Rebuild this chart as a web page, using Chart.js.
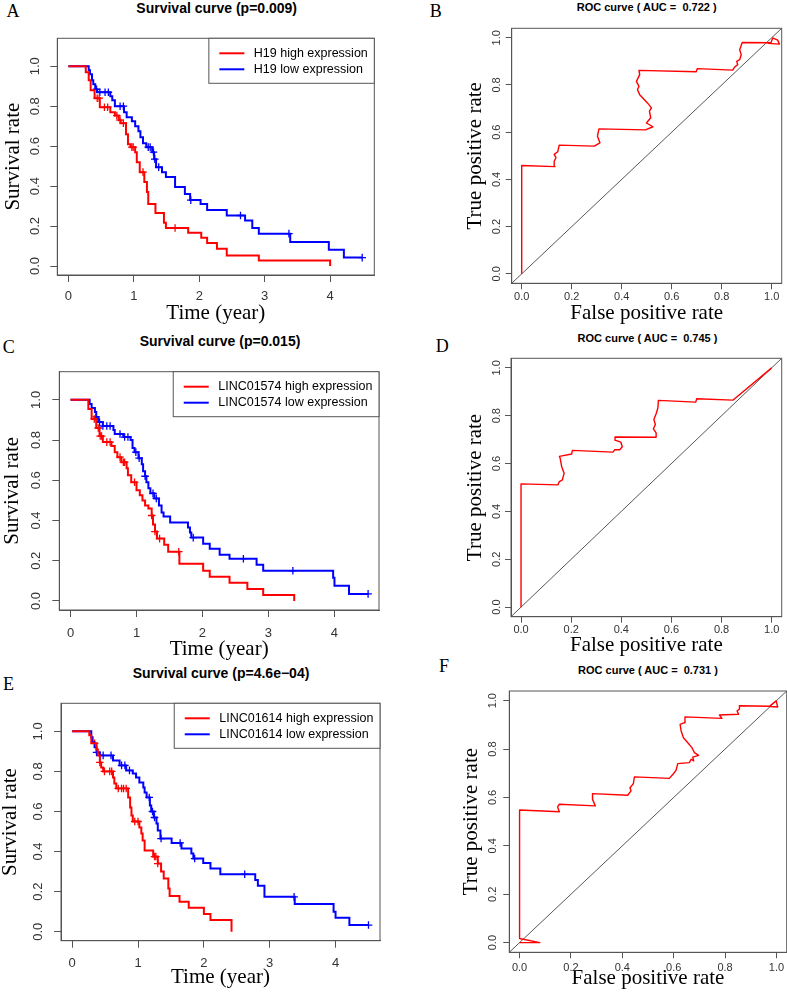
<!DOCTYPE html>
<html><head><meta charset="utf-8">
<script src="https://cdn.jsdelivr.net/npm/chart.js@4.4.1/dist/chart.umd.min.js"></script>
<style>
html,body{margin:0;padding:0;background:#fff;}
body{width:787px;height:992px;overflow:hidden;position:relative;}
canvas{position:absolute;}
.ttl{position:absolute;transform:translate(-50%,-50%);font-family:'Liberation Sans',Arial,sans-serif;font-weight:bold;line-height:1;white-space:pre;color:#000;}
.lbl{position:absolute;transform:translateY(-50%);font-family:'Liberation Serif','Times New Roman',serif;font-size:18px;line-height:1;color:#000;}
</style></head><body>
<div class="lbl" style="left:6.5px;top:10.8px">A</div>
<div class="lbl" style="left:429.7px;top:10.8px">B</div>
<div class="lbl" style="left:2.8px;top:346.7px">C</div>
<div class="lbl" style="left:435.8px;top:346px">D</div>
<div class="lbl" style="left:3px;top:684px">E</div>
<div class="lbl" style="left:439px;top:666px">F</div>
<div class="ttl" style="left:216.7px;top:8px;font-size:14px">Survival curve (p=0.009)</div>
<div class="ttl" style="left:646.7px;top:7px;font-size:11px">ROC curve ( AUC =  0.722 )</div>
<div class="ttl" style="left:220px;top:341px;font-size:14px">Survival curve (p=0.015)</div>
<div class="ttl" style="left:647.5px;top:338px;font-size:11px">ROC curve ( AUC =  0.745 )</div>
<div class="ttl" style="left:221px;top:672.5px;font-size:14px">Survival curve (p=4.6e−04)</div>
<div class="ttl" style="left:648px;top:669.5px;font-size:11px">ROC curve ( AUC =  0.731 )</div>
<script>
// ---------------- DATA ----------------
const survivalTicksX = [0, 1, 2, 3, 4];
const survivalTicksY = [0, 0.2, 0.4, 0.6, 0.8, 1.0];
const rocTicks = [0, 0.2, 0.4, 0.6, 0.8, 1.0];

// Kaplan-Meier steps: [time (year), survival rate]
const h19HighSteps = [[0,1],[0.265,0.97],[0.31,0.93],[0.34,0.88],[0.40,0.84],[0.48,0.795],[0.64,0.77],[0.71,0.753],[0.77,0.73],[0.80,0.715],[0.88,0.66],[0.91,0.61],[0.95,0.595],[1.02,0.57],[1.045,0.52],[1.09,0.47],[1.16,0.42],[1.20,0.37],[1.22,0.31],[1.33,0.265],[1.46,0.217],[1.49,0.19],[1.83,0.167],[2.03,0.142],[2.12,0.115],[2.27,0.087],[2.42,0.053],[2.91,0.028],[4.0,0.0]];
const h19HighCensor = [0.44,0.47,0.55,0.60,0.74,0.79,0.84,0.97,0.99,1.14,1.63];
const h19LowSteps = [[0,1],[0.31,0.98],[0.33,0.96],[0.36,0.93],[0.38,0.91],[0.41,0.885],[0.44,0.87],[0.64,0.85],[0.67,0.83],[0.71,0.80],[0.85,0.77],[0.89,0.745],[0.97,0.725],[1.02,0.70],[1.07,0.675],[1.10,0.645],[1.14,0.615],[1.19,0.595],[1.28,0.57],[1.31,0.535],[1.34,0.495],[1.43,0.47],[1.49,0.445],[1.63,0.395],[1.78,0.36],[1.86,0.33],[2.02,0.31],[2.12,0.28],[2.42,0.253],[2.70,0.228],[2.81,0.19],[2.91,0.162],[3.39,0.12],[3.98,0.082],[4.21,0.042],[4.49,0.042]];
const h19LowCensor = [0.43,0.48,0.56,0.61,0.79,0.84,1.22,1.25,1.30,1.32,1.38,1.87,2.63,3.37,4.49];

const linc01574HighSteps = [[0,1],[0.27,0.955],[0.32,0.905],[0.39,0.86],[0.44,0.82],[0.49,0.79],[0.62,0.77],[0.67,0.74],[0.71,0.715],[0.77,0.69],[0.85,0.66],[0.87,0.625],[0.92,0.59],[1.0,0.55],[1.05,0.525],[1.09,0.50],[1.13,0.475],[1.18,0.46],[1.23,0.425],[1.25,0.38],[1.28,0.345],[1.31,0.31],[1.42,0.28],[1.48,0.245],[1.65,0.185],[2.01,0.15],[2.11,0.12],[2.41,0.09],[2.68,0.06],[2.92,0.03],[3.39,0.0]];
const linc01574HighCensor = [0.36,0.42,0.45,0.47,0.55,0.60,0.75,0.80,0.82,0.97,1.23,1.28,1.35,1.64];
const linc01574LowSteps = [[0,1],[0.29,0.98],[0.32,0.96],[0.37,0.94],[0.39,0.915],[0.42,0.89],[0.49,0.87],[0.65,0.85],[0.67,0.83],[0.80,0.815],[0.91,0.80],[0.94,0.76],[0.97,0.74],[1.03,0.71],[1.08,0.68],[1.10,0.645],[1.13,0.62],[1.15,0.59],[1.18,0.56],[1.21,0.535],[1.27,0.51],[1.34,0.475],[1.38,0.44],[1.41,0.42],[1.51,0.39],[1.78,0.365],[1.81,0.34],[1.83,0.315],[2.01,0.285],[2.11,0.26],[2.26,0.23],[2.41,0.21],[2.82,0.18],[2.92,0.15],[3.98,0.115],[4.0,0.075],[4.22,0.035],[4.51,0.035]];
const linc01574LowCensor = [0.39,0.44,0.49,0.55,0.60,0.75,0.82,0.87,0.99,1.04,1.13,1.25,1.30,1.86,2.62,3.37,4.51];

const linc01614HighSteps = [[0,1],[0.26,0.98],[0.29,0.94],[0.37,0.91],[0.39,0.88],[0.42,0.845],[0.44,0.82],[0.47,0.80],[0.62,0.77],[0.64,0.74],[0.67,0.715],[0.85,0.67],[0.88,0.62],[0.90,0.58],[0.92,0.55],[1.02,0.52],[1.05,0.49],[1.07,0.455],[1.10,0.405],[1.23,0.375],[1.30,0.34],[1.35,0.30],[1.39,0.265],[1.46,0.215],[1.48,0.178],[1.63,0.15],[1.77,0.12],[2.0,0.088],[2.1,0.058],[2.42,0.0]];
const linc01614HighCensor = [0.34,0.42,0.49,0.57,0.60,0.70,0.75,0.78,0.82,0.95,1.0,1.25,1.27,1.30];
const linc01614LowSteps = [[0,1],[0.29,0.97],[0.31,0.945],[0.34,0.92],[0.37,0.895],[0.42,0.88],[0.62,0.855],[0.72,0.83],[0.82,0.805],[0.92,0.79],[0.97,0.77],[1.02,0.745],[1.08,0.72],[1.10,0.695],[1.13,0.67],[1.18,0.63],[1.20,0.60],[1.24,0.57],[1.28,0.54],[1.30,0.505],[1.34,0.465],[1.51,0.443],[1.66,0.415],[1.81,0.39],[1.84,0.365],[1.99,0.343],[2.10,0.315],[2.25,0.287],[2.78,0.258],[2.82,0.229],[2.92,0.174],[3.38,0.138],[3.97,0.10],[4.0,0.07],[4.21,0.033],[4.5,0.033]];
const linc01614LowCensor = [0.37,0.42,0.47,0.59,0.75,0.80,0.87,1.17,1.22,1.25,1.35,1.64,1.86,2.62,3.37,4.5];

// ROC curves: [false positive rate, true positive rate]
const h19Roc = [[0,0],[0,0.459],[0.133,0.454],[0.130,0.477],[0.137,0.492],[0.130,0.506],[0.144,0.517],[0.150,0.545],[0.290,0.541],[0.313,0.555],[0.303,0.583],[0.309,0.614],[0.495,0.610],[0.525,0.623],[0.499,0.639],[0.516,0.661],[0.511,0.689],[0.519,0.703],[0.503,0.724],[0.472,0.759],[0.463,0.780],[0.469,0.794],[0.459,0.815],[0.472,0.844],[0.469,0.862],[0.698,0.856],[0.702,0.869],[0.844,0.863],[0.851,0.875],[0.864,0.886],[0.860,0.900],[0.872,0.907],[0.878,0.928],[0.872,0.949],[0.882,0.980],[0.997,0.979],[1.004,0.999],[1.024,0.990],[1.031,0.973],[0.984,0.976]];
const linc01574Roc = [[0,0],[0,0.515],[0.147,0.511],[0.153,0.525],[0.165,0.532],[0.172,0.560],[0.162,0.588],[0.156,0.623],[0.153,0.630],[0.202,0.640],[0.205,0.655],[0.367,0.648],[0.374,0.658],[0.394,0.658],[0.404,0.670],[0.398,0.690],[0.378,0.697],[0.375,0.711],[0.539,0.710],[0.539,0.728],[0.528,0.745],[0.536,0.763],[0.530,0.784],[0.539,0.808],[0.546,0.833],[0.548,0.864],[0.697,0.857],[0.701,0.871],[0.845,0.865],[1.0,1.0]];
const linc01614Roc = [[0,0],[0.079,0],[0,0.017],[0,0.548],[0.155,0.541],[0.148,0.561],[0.155,0.572],[0.295,0.565],[0.284,0.592],[0.284,0.616],[0.421,0.609],[0.434,0.627],[0.430,0.640],[0.443,0.657],[0.447,0.685],[0.583,0.679],[0.599,0.698],[0.609,0.712],[0.616,0.740],[0.661,0.744],[0.668,0.758],[0.678,0.751],[0.674,0.767],[0.697,0.774],[0.681,0.785],[0.671,0.806],[0.655,0.826],[0.638,0.847],[0.629,0.875],[0.625,0.902],[0.642,0.909],[0.644,0.933],[0.788,0.927],[0.778,0.941],[0.853,0.944],[0.847,0.957],[0.856,0.966],[0.856,0.979],[0.973,0.977],[0.999,0.999],[1.005,0.974],[0.975,0.976]];

// axis limits
const survXLim = [-0.17, 4.675];
const survYLim = [-0.045, 1.14];
const rocLim = [-0.04, 1.04];

// ---------------- RENDERING ----------------
const SANS = "'Liberation Sans', Arial, sans-serif";
const SERIF = "'Liberation Serif', 'Times New Roman', serif";
const RED = '#FF0000', BLUE = '#0000FF', FRAME = '#555555';

const toXY = arr => arr.map(([x, y]) => ({x, y}));
function survAt(steps, t) {
  let s = steps[0][1];
  for (const [tt, ss] of steps) { if (tt <= t + 1e-9) s = ss; else break; }
  return s;
}
function makeCanvas(cl, ct, w, h) {
  const c = document.createElement('canvas');
  c.width = w; c.height = h;
  c.style.left = cl + 'px'; c.style.top = ct + 'px';
  c.style.width = w + 'px'; c.style.height = h + 'px';
  document.body.appendChild(c);
  return c;
}
const boxPlugin = {
  id: 'rbox',
  afterDatasetsDraw(chart) {
    const {ctx, chartArea: a} = chart;
    ctx.save();
    ctx.strokeStyle = FRAME; ctx.lineWidth = 1;
    ctx.strokeRect(a.left, a.top, a.right - a.left, a.bottom - a.top);
    ctx.restore();
  }
};
const kmLegendPlugin = {
  id: 'kmLegend',
  afterDraw(chart) {
    const {ctx, chartArea: a} = chart;
    const ds = chart.data.datasets.slice(0, 2);
    ctx.save();
    ctx.font = '12.5px ' + SANS;
    const tw = Math.max(...ds.map(d => ctx.measureText(d.label).width));
    const w = 45 + tw + 6.5, h = 45;
    const left = a.right - w, top = a.top;
    ctx.fillStyle = '#fff'; ctx.fillRect(left, top, w, h);
    ctx.strokeStyle = FRAME; ctx.lineWidth = 1; ctx.strokeRect(left, top, w, h);
    ds.forEach((d, i) => {
      const y = top + 15 + i * 16;
      ctx.strokeStyle = d.borderColor; ctx.lineWidth = 2;
      ctx.beginPath(); ctx.moveTo(left + 10.5, y); ctx.lineTo(left + 35.5, y); ctx.stroke();
      ctx.fillStyle = '#000'; ctx.textBaseline = 'middle'; ctx.textAlign = 'left';
      ctx.fillText(d.label, left + 45, y);
    });
    ctx.restore();
  }
};

function axis(opts) {
  return {
    type: 'linear', min: opts.lim[0], max: opts.lim[1],
    afterBuildTicks: s => { s.ticks = opts.ticks.map(v => ({value: v})); },
    afterFit: opts.fit,
    ticks: Object.assign({
      font: {family: SANS, size: opts.fontSize}, color: '#333', padding: opts.pad,
      autoSkip: false, callback: opts.fmt
    }, opts.rot ? {minRotation: 90, maxRotation: 90, crossAlign: 'center'} : {maxRotation: 0}),
    grid: {display: true, drawOnChartArea: false, drawTicks: true, tickLength: opts.tl, tickColor: FRAME, tickWidth: 1, color: FRAME},
    border: {display: true, color: FRAME, width: 1},
    title: {display: true, text: opts.title, color: '#000', font: {family: SERIF, size: 21, lineHeight: 1}, padding: opts.titlePad}
  };
}

function frame(p) {
  const [bl, bt, br, bb] = p.box;
  const [cl, ct, w, h] = p.canvas;
  return {canvas: makeCanvas(cl, ct, w, h), YW: bl - cl, XH: ct + h - bb, PT: bt - ct, PR: cl + w - br};
}

function survivalChart(p) {
  const f = frame(p);
  const censorSet = (steps, cens, col) => ({
    label: 'censored', data: cens.map(t => ({x: t, y: survAt(steps, t)})), showLine: false,
    pointStyle: 'cross', pointRadius: 3.8, pointBorderWidth: 1.3, borderColor: col, backgroundColor: col
  });
  return new Chart(f.canvas, {
    type: 'scatter',
    data: {datasets: [
      {label: p.labels[0], data: toXY(p.high), showLine: true, stepped: 'before', borderColor: RED, backgroundColor: RED, borderWidth: 2, pointRadius: 0, fill: false},
      {label: p.labels[1], data: toXY(p.low), showLine: true, stepped: 'before', borderColor: BLUE, backgroundColor: BLUE, borderWidth: 2, pointRadius: 0, fill: false},
      censorSet(p.high, p.highCens, RED),
      censorSet(p.low, p.lowCens, BLUE)
    ]},
    options: {
      responsive: false, animation: false, devicePixelRatio: 1,
      layout: {padding: {left: 0, top: f.PT, right: f.PR, bottom: 0}},
      plugins: {legend: {display: false}, tooltip: {enabled: false}},
      scales: {
        x: axis({lim: survXLim, ticks: survivalTicksX, fontSize: 13, pad: p.xTickPad, tl: 7, fmt: v => String(v),
                 fit: s => { s.height = f.XH; }, title: 'Time (year)', titlePad: {top: 0, bottom: p.xTitlePad}}),
        y: axis({lim: survYLim, ticks: survivalTicksY, fontSize: 13, pad: p.yTickPad, tl: 7, rot: true, fmt: v => v.toFixed(1),
                 fit: s => { s.width = f.YW; }, title: 'Survival rate', titlePad: {top: p.yTitlePad, bottom: 0}})
      }
    },
    plugins: [boxPlugin, kmLegendPlugin]
  });
}

function rocChart(p) {
  const f = frame(p);
  return new Chart(f.canvas, {
    type: 'scatter',
    data: {datasets: [
      {label: 'ROC', data: toXY(p.roc), showLine: true, borderColor: RED, borderWidth: 1.4, pointRadius: 0, tension: 0, fill: false, borderJoinStyle: 'round'},
      {label: 'reference', data: [{x: rocLim[0], y: rocLim[0]}, {x: rocLim[1], y: rocLim[1]}], showLine: true, borderColor: '#444', borderWidth: 0.9, pointRadius: 0}
    ]},
    options: {
      responsive: false, animation: false, devicePixelRatio: 1,
      layout: {padding: {left: 0, top: f.PT, right: f.PR, bottom: 0}},
      plugins: {legend: {display: false}, tooltip: {enabled: false}},
      scales: {
        x: axis({lim: rocLim, ticks: rocTicks, fontSize: 11, pad: p.xTickPad, tl: 6, fmt: v => v.toFixed(1),
                 fit: s => { s.height = f.XH; }, title: 'False positive rate', titlePad: {top: 0, bottom: p.xTitlePad}}),
        y: axis({lim: rocLim, ticks: rocTicks, fontSize: 11, pad: p.yTickPad, tl: 6, rot: true, fmt: v => v.toFixed(1),
                 fit: s => { s.width = f.YW; }, title: 'True positive rate', titlePad: {top: p.yTitlePad, bottom: 0}})
      }
    },
    plugins: [boxPlugin]
  });
}

survivalChart({box: [57.3, 38.3, 374.3, 275], canvas: [0, 18, 395, 310], yTitlePad: 2.5, yTickPad: 6.26, xTickPad: 6.9, xTitlePad: 4.5,
  labels: ['H19 high expression', 'H19 low expression'], high: h19HighSteps, highCens: h19HighCensor, low: h19LowSteps, lowCens: h19LowCensor});
survivalChart({box: [59.3, 371.7, 379, 610], canvas: [0, 352, 400, 313], yTitlePad: 2, yTickPad: 6.56, xTickPad: 8.5, xTitlePad: 4.8,
  labels: ['LINC01574 high expression', 'LINC01574 low expression'], high: linc01574HighSteps, highCens: linc01574HighCensor, low: linc01574LowSteps, lowCens: linc01574LowCensor});
survivalChart({box: [61, 703.3, 380, 940.7], canvas: [0, 683, 400, 310], yTitlePad: 0, yTickPad: 6.66, xTickPad: 7.8, xTitlePad: 5.2,
  labels: ['LINC01614 high expression', 'LINC01614 low expression'], high: linc01614HighSteps, highCens: linc01614HighCensor, low: linc01614LowSteps, lowCens: linc01614LowCensor});
rocChart({box: [511.7, 28.3, 781.7, 283.3], canvas: [430, 8, 372, 320], yTitlePad: 34.5, yTickPad: 1.35, xTickPad: 0.8, xTitlePad: 4.5, roc: h19Roc});
rocChart({box: [511, 358.3, 781.7, 616.7], canvas: [430, 338, 372, 323], yTitlePad: 34.5, yTickPad: 0.65, xTickPad: 0.7, xTitlePad: 4.8, roc: linc01574Roc});
rocChart({box: [509.3, 691, 786.7, 952.3], canvas: [430, 671, 377, 322], yTitlePad: 31.2, yTickPad: 2.35, xTickPad: 3.4, xTitlePad: 4.5, roc: linc01614Roc});
</script>
</body></html>
